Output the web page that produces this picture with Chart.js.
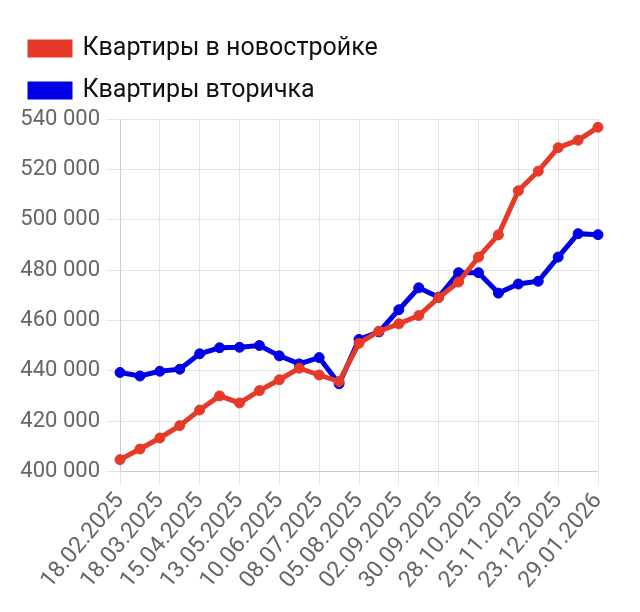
<!DOCTYPE html>
<html>
<head>
<meta charset="utf-8">
<script src="https://cdn.jsdelivr.net/npm/chart.js@4.4.1/dist/chart.umd.min.js"></script>
<style>
  html, body { margin: 0; padding: 0; background: #fff; }
  #wrap { width: 640px; height: 612px; }
</style>
</head>
<body>
<div id="wrap"><canvas id="chartCanvas"></canvas></div>
<script>
// dates, every two weeks
var dates = [
  '18.02.2025', '04.03.2025', '18.03.2025', '01.04.2025', '15.04.2025',
  '29.04.2025', '13.05.2025', '27.05.2025', '10.06.2025', '24.06.2025',
  '08.07.2025', '22.07.2025', '05.08.2025', '19.08.2025', '02.09.2025',
  '16.09.2025', '30.09.2025', '14.10.2025', '28.10.2025', '11.11.2025',
  '25.11.2025', '09.12.2025', '23.12.2025', '13.01.2026', '29.01.2026'
];

// price per sq. m, new buildings
var newBuild = [
  404800, 409000, 413400, 418300, 424500, 430100, 427300, 432200, 436500, 441100,
  438400, 435800, 451000, 455800, 458700, 462000, 469100, 475300, 485200, 494000,
  511500, 519300, 528600, 531600, 536700
];

// price per sq. m, secondary market
var secondary = [
  439400, 438000, 439900, 440700, 446800, 449200, 449400, 450100, 446000, 442800,
  445300, 434900, 452500, 455500, 464300, 473000, 469300, 479000, 479000, 470900,
  474500, 475600, 485200, 494500, 494100
];

var yMin = 400000;
var yMax = 540000;
var yStep = 20000;

var redColor = 'rgb(230, 57, 40)';
var blueColor = 'rgb(0, 0, 230)';

function formatThousands(v) {
  return String(v).replace(/\B(?=(\d{3})+(?!\d))/g, ' ');
}

// a bit of extra room under the legend
var legendMargin = {
  id: 'legendMargin',
  beforeInit: function(chart) {
    var origFit = chart.legend.fit;
    chart.legend.fit = function() {
      origFit.call(this);
      this.height += 6;
    };
  }
};

var ctx = document.getElementById('chartCanvas').getContext('2d');
var chart = new Chart(ctx, {
  type: 'line',
  data: {
    labels: dates,
    datasets: [{
      label: 'Квартиры в новостройке',
      data: newBuild,
      borderColor: redColor,
      backgroundColor: redColor,
      borderWidth: 5,
      pointRadius: 5,
      pointBorderWidth: 1,
      pointHoverRadius: 5,
      tension: 0
    }, {
      label: 'Квартиры вторичка',
      data: secondary,
      borderColor: blueColor,
      backgroundColor: blueColor,
      borderWidth: 5,
      pointRadius: 5,
      pointBorderWidth: 1,
      pointHoverRadius: 5,
      tension: 0
    }]
  },
  options: {
    responsive: true,
    maintainAspectRatio: false,
    animation: false,
    layout: {
      padding: { left: 13, right: 42, top: 19, bottom: 15 }
    },
    plugins: {
      tooltip: { enabled: false },
      legend: {
        position: 'top',
        align: 'start',
        labels: {
          boxWidth: 40,
          boxHeight: 13,
          padding: 17,
          color: '#111',
          font: { family: 'Roboto', size: 25 }
        }
      }
    },
    scales: {
      x: {
        ticks: {
          autoSkip: false,
          minRotation: 50,
          maxRotation: 50,
          color: '#666',
          font: { family: 'Roboto', size: 23 },
          callback: function(value, index) {
            return index % 2 === 0 ? dates[index] : null;
          }
        },
        grid: { color: 'rgba(0,0,0,0.1)', tickLength: 13 }
      },
      y: {
        min: yMin,
        max: yMax,
        afterFit: function(scale) {
          scale.width = 107;
        },
        ticks: {
          stepSize: yStep,
          padding: 7,
          color: '#666',
          font: { family: 'Roboto', size: 22 },
          callback: function(value) {
            return formatThousands(value);
          }
        },
        grid: { color: 'rgba(0,0,0,0.1)', tickLength: 13 }
      }
    }
  },
  plugins: [legendMargin]
});
</script>
</body>
</html>
